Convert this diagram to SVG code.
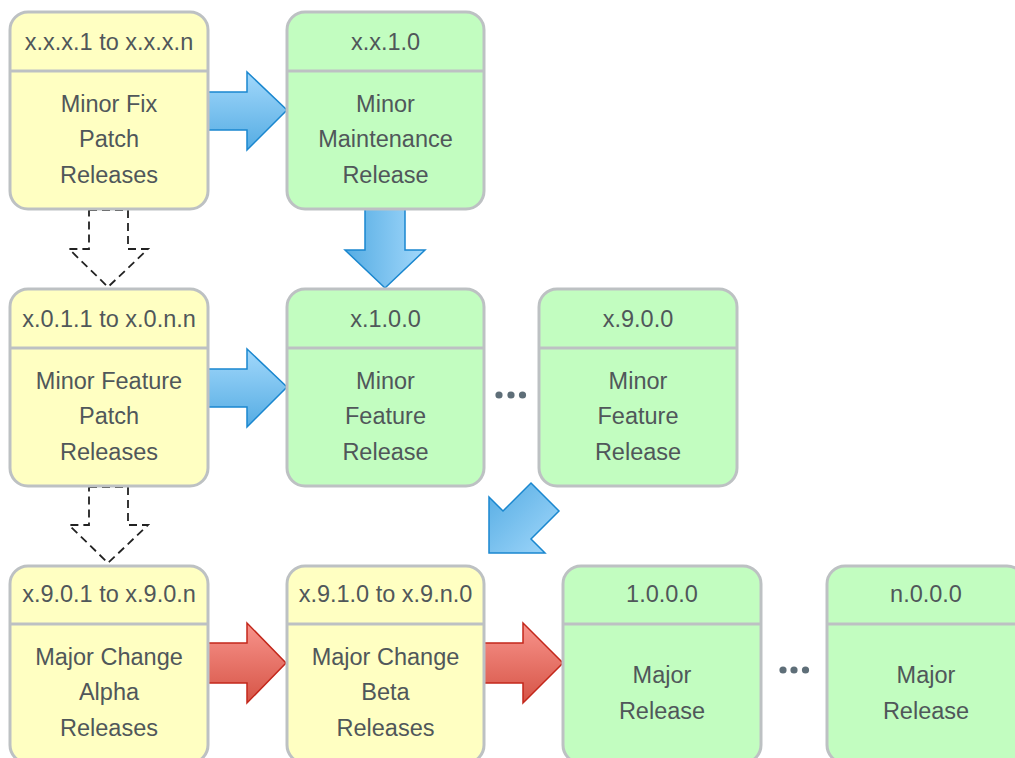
<svg xmlns="http://www.w3.org/2000/svg" width="1015" height="758" viewBox="0 0 1015 758">
<style>
.box{stroke:#bdc1c3;stroke-width:3}
.y{fill:#ffffc2}
.g{fill:#c2fdc0}
.div{stroke:#bdc1c3;stroke-width:3}
text{font-family:"Liberation Sans",Arial,sans-serif;font-size:23.5px;fill:#50575a;text-anchor:middle}
.blue{stroke:#1a87cf;stroke-width:1.5;stroke-linejoin:miter}
.red{stroke:#c3271b;stroke-width:1.5;fill:url(#gr)}
.dash{fill:none;stroke:#222;stroke-width:1.8;stroke-dasharray:8 5}
.dot{fill:#5e6e78}
</style>
<defs>
<linearGradient id="gbr" x1="0" y1="0" x2="0" y2="1"><stop offset="0" stop-color="#a2d8fb"/><stop offset="1" stop-color="#55ace3"/></linearGradient>
<linearGradient id="gbd" x1="0" y1="0" x2="1" y2="0"><stop offset="0" stop-color="#55ace3"/><stop offset="1" stop-color="#a2d8fb"/></linearGradient>
<linearGradient id="gbdiag" x1="0" y1="0" x2="1" y2="1"><stop offset="0" stop-color="#55ace3"/><stop offset="1" stop-color="#a2d8fb"/></linearGradient>
<linearGradient id="gr" x1="0" y1="0" x2="0" y2="1"><stop offset="0" stop-color="#f8948c"/><stop offset="1" stop-color="#d65446"/></linearGradient>
</defs>

<g id="connectors">
<polygon class="blue" fill="url(#gbr)" points="208,92 247,92 247,72 287,110 247,150 247,130 208,130"/>
<polygon class="blue" fill="url(#gbd)" points="365,208 405,208 405,250 425,250 385,288 345,250 365,250"/>
<polygon class="blue" fill="url(#gbr)" points="208,369 247,369 247,349 287,387 247,427 247,407 208,407"/>
<polygon class="blue" fill="url(#gbdiag)" points="489,553 489,497 503,511 531,483 559,511 531,539 545,553"/>
<polygon class="red" points="208,643 247,643 247,623 286,663 247,703 247,683 208,683"/>
<polygon class="red" points="484,643 523,643 523,623 563,663 523,703 523,683 484,683"/>
<polygon class="dash" points="89,210 128,210 128,249 148,249 108,287 69,249 89,249"/>
<polygon class="dash" points="89,487 128,487 128,525 148,525 108,563 69,525 89,525"/>
<g id="ellipsis1"><circle class="dot" cx="499" cy="395" r="3.6"/><circle class="dot" cx="511" cy="395" r="3.6"/><circle class="dot" cx="522.5" cy="395" r="3.6"/></g>
<g id="ellipsis2"><circle class="dot" cx="783" cy="670" r="3.6"/><circle class="dot" cx="794" cy="670" r="3.6"/><circle class="dot" cx="805.5" cy="670" r="3.6"/></g>
</g>

<g id="n1"><rect class="box y" x="10" y="12" width="198" height="197" rx="18"/><line class="div" x1="10" y1="71" x2="208" y2="71"/>
<text x="109" y="50">x.x.x.1 to x.x.x.n</text><text x="109" y="112">Minor Fix</text><text x="109" y="147">Patch</text><text x="109" y="183">Releases</text></g>

<g id="n2"><rect class="box g" x="287" y="12" width="197" height="197" rx="18"/><line class="div" x1="287" y1="71" x2="484" y2="71"/>
<text x="385.5" y="50">x.x.1.0</text><text x="385.5" y="112">Minor</text><text x="385.5" y="147">Maintenance</text><text x="385.5" y="183">Release</text></g>

<g id="n3"><rect class="box y" x="10" y="289" width="198" height="197" rx="18"/><line class="div" x1="10" y1="348" x2="208" y2="348"/>
<text x="109" y="327">x.0.1.1 to x.0.n.n</text><text x="109" y="389">Minor Feature</text><text x="109" y="424">Patch</text><text x="109" y="460">Releases</text></g>

<g id="n4"><rect class="box g" x="287" y="289" width="197" height="197" rx="18"/><line class="div" x1="287" y1="348" x2="484" y2="348"/>
<text x="385.5" y="327">x.1.0.0</text><text x="385.5" y="389">Minor</text><text x="385.5" y="424">Feature</text><text x="385.5" y="460">Release</text></g>

<g id="n5"><rect class="box g" x="539" y="289" width="198" height="197" rx="18"/><line class="div" x1="539" y1="348" x2="737" y2="348"/>
<text x="638" y="327">x.9.0.0</text><text x="638" y="389">Minor</text><text x="638" y="424">Feature</text><text x="638" y="460">Release</text></g>

<g id="n6"><rect class="box y" x="10" y="566" width="198" height="197" rx="18"/><line class="div" x1="10" y1="624" x2="208" y2="624"/>
<text x="109" y="602">x.9.0.1 to x.9.0.n</text><text x="109" y="665">Major Change</text><text x="109" y="700">Alpha</text><text x="109" y="736">Releases</text></g>

<g id="n7"><rect class="box y" x="287" y="566" width="197" height="197" rx="18"/><line class="div" x1="287" y1="624" x2="484" y2="624"/>
<text x="385.5" y="602">x.9.1.0 to x.9.n.0</text><text x="385.5" y="665">Major Change</text><text x="385.5" y="700">Beta</text><text x="385.5" y="736">Releases</text></g>

<g id="n8"><rect class="box g" x="563" y="566" width="198" height="197" rx="18"/><line class="div" x1="563" y1="624" x2="761" y2="624"/>
<text x="662" y="602">1.0.0.0</text><text x="662" y="683">Major</text><text x="662" y="719">Release</text></g>

<g id="n9"><rect class="box g" x="827" y="566" width="198" height="197" rx="18"/><line class="div" x1="827" y1="624" x2="1025" y2="624"/>
<text x="926" y="602">n.0.0.0</text><text x="926" y="683">Major</text><text x="926" y="719">Release</text></g>
</svg>
